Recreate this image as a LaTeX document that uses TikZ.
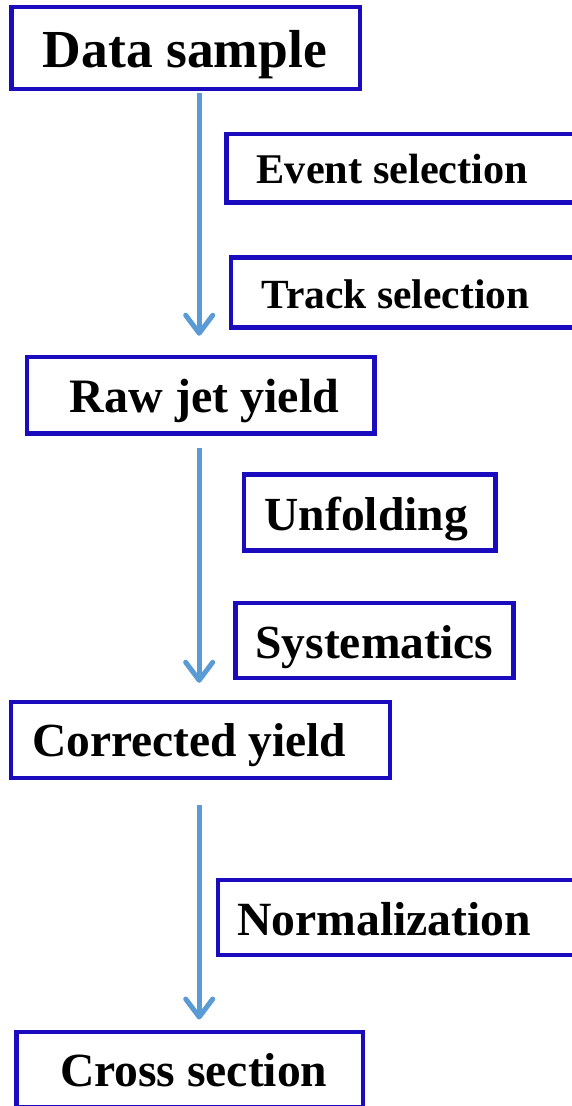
\documentclass[tikz,border=0pt]{standalone}
\usepackage{fontspec}
\setmainfont{Liberation Serif}
\usetikzlibrary{arrows.meta}
\definecolor{boxblue}{RGB}{26,12,190}
\definecolor{flowblue}{RGB}{91,155,213}
\tikzset{
  box/.style={draw=boxblue, line width=4.4pt, fill=white, inner xsep=0pt, inner ysep=0pt,
    text depth=0pt, font=\bfseries},
  flow/.style={draw=flowblue, line width=5pt,
    -{Straight Barb[length=18pt, width=27pt, round]}}
}
\begin{document}
\begin{tikzpicture}[x=1pt,y=-1pt]
\useasboundingbox (0,0) rectangle (572,1106);
\coordinate (ax) at (199.2,0);
\node[box, minimum height=82pt, text height=38pt, font=\bfseries\fontsize{53.5}{60}\selectfont] (ds) at (185.75,48)
  {\makebox[348.5pt][l]{\hspace*{31.5pt}Data sample}};
\node[box, minimum height=68.5pt, text height=30pt, font=\bfseries\fontsize{42.3}{48}\selectfont] (ev) at (426.5,168.25)
  {\makebox[400pt][l]{\hspace*{30.2pt}Event selection}};
\node[box, minimum height=70pt, text height=31.6pt, font=\bfseries\fontsize{41.5}{48}\selectfont] (tr) at (430.7,292.5)
  {\makebox[400pt][l]{\hspace*{31pt}Track selection}};
\node[box, minimum height=76.7pt, text height=34.8pt, font=\bfseries\fontsize{48}{54}\selectfont] (raw) at (200.75,395.3)
  {\makebox[347.5pt][l]{\hspace*{43pt}Raw jet yield}};
\node[box, minimum height=76pt, text height=35.4pt, font=\bfseries\fontsize{47.5}{54}\selectfont] (unf) at (369.7,512.3)
  {\makebox[251.4pt][l]{\hspace*{20.6pt}Unfolding}};
\node[box, minimum height=75pt, text height=35.6pt, font=\bfseries\fontsize{47.5}{54}\selectfont] (sys) at (374.45,640.5)
  {\makebox[277.7pt][l]{\hspace*{19.9pt}Systematics}};
\node[box, minimum height=76pt, text height=33.4pt, font=\bfseries\fontsize{47.5}{54}\selectfont] (cor) at (200.5,740)
  {\makebox[379pt][l]{\hspace*{21pt}Corrected yield}};
\node[box, minimum height=74.7pt, text height=35.3pt, font=\bfseries\fontsize{47.7}{54}\selectfont] (nor) at (418,917.35)
  {\makebox[400pt][l]{\hspace*{19pt}Normalization}};
\node[box, minimum height=75pt, text height=34.4pt, font=\bfseries\fontsize{47.6}{54}\selectfont] (cs) at (189.8,1069.5)
  {\makebox[346.4pt][l]{\hspace*{43.4pt}Cross section}};
\draw[flow] ([yshift=-2.2pt]ds.south -| ax) -- ([yshift=19pt]raw.north -| ax);
\draw[flow] ([yshift=-12.3pt]raw.south -| ax) -- ([yshift=17pt]cor.north -| ax);
\draw[flow] ([yshift=-25pt]cor.south -| ax) -- ([yshift=10.3pt]cs.north -| ax);
\end{tikzpicture}
\end{document}
